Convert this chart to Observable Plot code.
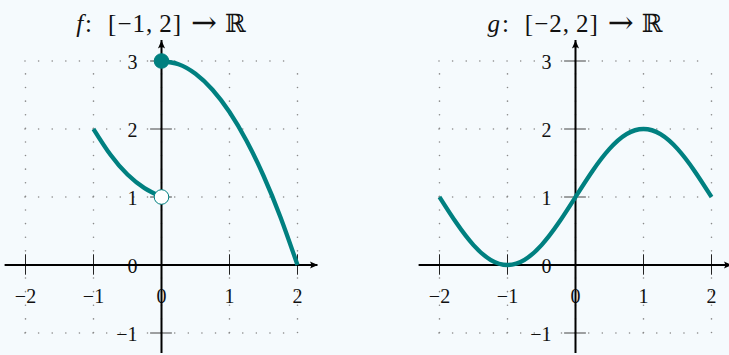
<!DOCTYPE html>
<html>
<head>
<meta charset="utf-8">
<script src="https://cdn.jsdelivr.net/npm/d3@7"></script>
<script src="https://cdn.jsdelivr.net/npm/@observablehq/plot@0.6"></script>
<style>
  html, body { margin: 0; padding: 0; background: #f5fafd; }
  #row { display: flex; width: 729px; height: 355px; overflow: hidden; }
  .panel { position: relative; height: 355px; flex: none; }
  .title {
    position: absolute; top: 10px; transform: translateX(-50%);
    font-family: "Liberation Serif", "DejaVu Serif", serif;
    font-size: 25px; line-height: 25px; white-space: nowrap; color: #111;
  }
  .title i { font-style: italic; margin-right: 2px; }
  .title .colon { margin-right: 16px; }
  .title .iv { letter-spacing: 1px; }
  .title .op { font-family: "DejaVu Serif", serif; font-size: 31px; line-height: 25px;
    margin: 0 8px 0 9px; vertical-align: -1px; }
  .title .bb { font-family: "DejaVu Serif", serif; font-size: 25px; }
  .plot { position: absolute; left: 0; top: 38px; }
</style>
</head>
<body>
<div id="row"></div>
<script>
// Sample points of f on [-1, 0) and [0, 2]
const fLeftX  = [-1, -0.75, -0.5, -0.25, 0];
const fLeftY  = [2, 1.62, 1.33, 1.13, 1];
const fRightX = [0, 0.25, 0.5, 0.75, 1, 1.25, 1.5, 1.75, 2];
const fRightY = [3, 2.953, 2.8125, 2.578, 2.25, 1.828, 1.3125, 0.703, 0];
// Endpoints of f at x = 0: closed at 3, open at 1
const fDotX = [0, 0];
const fDotY = [3, 1];
const fDotClosed = [true, false];

// Sample points of g on [-2, 2]
const gX = [-2, -1.75, -1.5, -1.25, -1, -0.75, -0.5, -0.25, 0, 0.25, 0.5, 0.75, 1, 1.25, 1.5, 1.75, 2];
const gY = [1, 0.617, 0.293, 0.076, 0, 0.076, 0.293, 0.617, 1, 1.383, 1.707, 1.924, 2, 1.924, 1.707, 1.383, 1];

// Tick values
const xTicks = [-2, -1, 0, 1, 2];
const yTicks = [-1, 0, 1, 2, 3];

const teal = "#008080";
const unit = 68;          // pixels per unit on both axes
const plotH = 317;        // svg height
const originY = 226.5;    // pixel row of y = 0 inside the svg
const axisExt = {x0: -2.3, x1: 2.3, y0: -1.3, y1: 3.3};
const fontFam = "Liberation Serif, DejaVu Serif, serif";
const fmt = d => (d < 0 ? "\u2212" : "") + Math.abs(d);

// LaTeX-style arrow tip; the tip sits on the anchor point and points right
const arrowTip = {
  draw(ctx) {
    ctx.moveTo(0, 0);
    ctx.lineTo(-8, -3.6);
    ctx.quadraticCurveTo(-5.5, 0, -8, 3.6);
    ctx.closePath();
  }
};

function zip(xs, ys) { return xs.map((x, i) => ({x, y: ys[i]})); }

function panel({width, originX, titleHTML, curves, dots}) {
  const xDomain = [-originX / unit, (width - originX) / unit];
  const yDomain = [-(plotH - originY) / unit, originY / unit];
  const nonZeroX = xTicks.filter(d => d !== 0);
  const nonZeroY = yTicks.filter(d => d !== 0);

  const marks = [
    // dotted grid
    Plot.ruleX(xTicks, {x: d => d, y1: -1, y2: 3, stroke: "#8a8a8a", strokeWidth: 1.6,
      strokeDasharray: "0.01 13.6", strokeLinecap: "round"}),
    Plot.ruleY(yTicks, {y: d => d, x1: -2, x2: 2, stroke: "#8a8a8a", strokeWidth: 1.6,
      strokeDasharray: "0.01 13.6", strokeLinecap: "round"}),
    // tick labels
    Plot.text(xTicks, {x: d => d, y: 0, text: fmt, dy: 31.5, fontSize: 20, fill: "#111"}),
    Plot.text(yTicks, {x: 0, y: d => d, text: fmt, dx: -24, dy: 2, textAnchor: "end", fontSize: 20, fill: "#111"}),
    // tick marks
    Plot.ruleX(nonZeroX, {x: d => d, y1: -0.15, y2: 0.15, stroke: "#222", strokeWidth: 1}),
    Plot.ruleY(nonZeroY, {y: d => d, x1: -0.16, x2: 0.16, stroke: "#444", strokeWidth: 1}),
    // axes with arrow tips
    Plot.ruleY([0], {x1: axisExt.x0, x2: axisExt.x1, stroke: "black", strokeWidth: 2}),
    Plot.ruleX([0], {y1: axisExt.y0, y2: axisExt.y1, stroke: "black", strokeWidth: 2}),
    Plot.dot([{x: axisExt.x1, y: 0, a: 0}, {x: 0, y: axisExt.y1, a: -90}],
      {x: "x", y: "y", rotate: "a", symbol: arrowTip, r: 3, fill: "black", stroke: "none"}),
    // function graph
    ...curves.map(c => Plot.line(c, {x: "x", y: "y", curve: "natural", stroke: teal,
      strokeWidth: 4.3, strokeLinecap: "butt"})),
  ];
  if (dots) {
    marks.push(Plot.dot(dots, {x: "x", y: "y", r: 7.3,
      fill: d => d.closed ? teal : "white", stroke: teal, strokeWidth: 1}));
  }

  const chart = Plot.plot({
    width, height: plotH, margin: 0,
    x: {domain: xDomain, range: [0, width], axis: null},
    y: {domain: yDomain, range: [plotH, 0], axis: null},
    style: {background: "transparent", overflow: "visible", fontFamily: fontFam, fontSize: "20px"},
    marks
  });

  const div = document.createElement("div");
  div.className = "panel";
  div.style.width = width + "px";
  const title = document.createElement("div");
  title.className = "title";
  title.style.left = originX + "px";
  title.innerHTML = titleHTML;
  const holder = document.createElement("div");
  holder.className = "plot";
  holder.appendChild(chart);
  div.appendChild(title);
  div.appendChild(holder);
  return div;
}

const title = name => `<i>${name.fn}</i><span class="colon">:</span><span class="iv">[${name.a},&thinsp;${name.b}]</span><span class="op">\u2192</span><span class="bb">\u211D</span>`;

const row = document.getElementById("row");
row.appendChild(panel({
  width: 364, originX: 161,
  titleHTML: title({fn: "f", a: "\u22121", b: "2"}),
  curves: [zip(fLeftX, fLeftY), zip(fRightX, fRightY)],
  dots: fDotX.map((x, i) => ({x, y: fDotY[i], closed: fDotClosed[i]}))
}));
row.appendChild(panel({
  width: 365, originX: 211,
  titleHTML: title({fn: "g", a: "\u22122", b: "2"}),
  curves: [zip(gX, gY)],
  dots: null
}));
</script>
</body>
</html>
